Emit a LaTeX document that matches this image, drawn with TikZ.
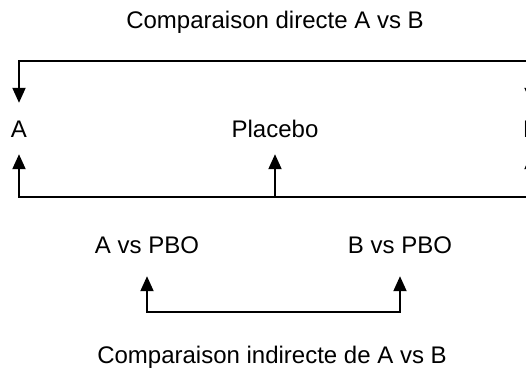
\documentclass[tikz,border=0pt]{standalone}
\usepackage{fontspec}
\setmainfont{Liberation Sans}
\usetikzlibrary{arrows.meta}
\tikzset{tri/.tip={Triangle[width=13pt,length=15pt]}}
\begin{document}
\begin{tikzpicture}[x=1pt,y=-1pt,
  every node/.style={font=\fontsize{24}{28}\selectfont, inner xsep=0pt, text height=17pt, text depth=0pt, anchor=base},
  lbl/.style={inner ysep=17pt},
  cmp/.style={inner ysep=23pt},
  ttl/.style={inner ysep=0pt},
  conn/.style={line width=2pt, draw=black}]
\useasboundingbox (0,0) rectangle (526,370);
\clip (0,0) rectangle (526,370);
\fill[white] (0,0) rectangle (526,370);
% titles
\node[ttl] (tdirect) at (275,28) {Comparaison directe A vs B};
\node[ttl] (tindirect) at (272,363) {Comparaison indirecte de A vs B};
% treatments
\node[lbl] (A) at (19,137) {A};
\node[lbl] (P) at (275,137) {Placebo};
\node[lbl] (B) at (531,137) {B};
% comparisons
\node[cmp] (AP) at (147,253) {A vs PBO};
\node[cmp] (BP) at (400,253) {B vs PBO};
% connectors
\draw[conn, tri-tri] (B.north) -- ++(0,-42) -| (A.north);
\draw[conn, tri-tri] (A.south) -- ++(0,43) -| (B.south);
\coordinate (pm) at (P.south |- 0,197);
\draw[conn, -tri] (pm) -- (P.south);
\draw[conn, tri-tri] (AP.south) -- ++(0,36) -| (BP.south);
\end{tikzpicture}
\end{document}
